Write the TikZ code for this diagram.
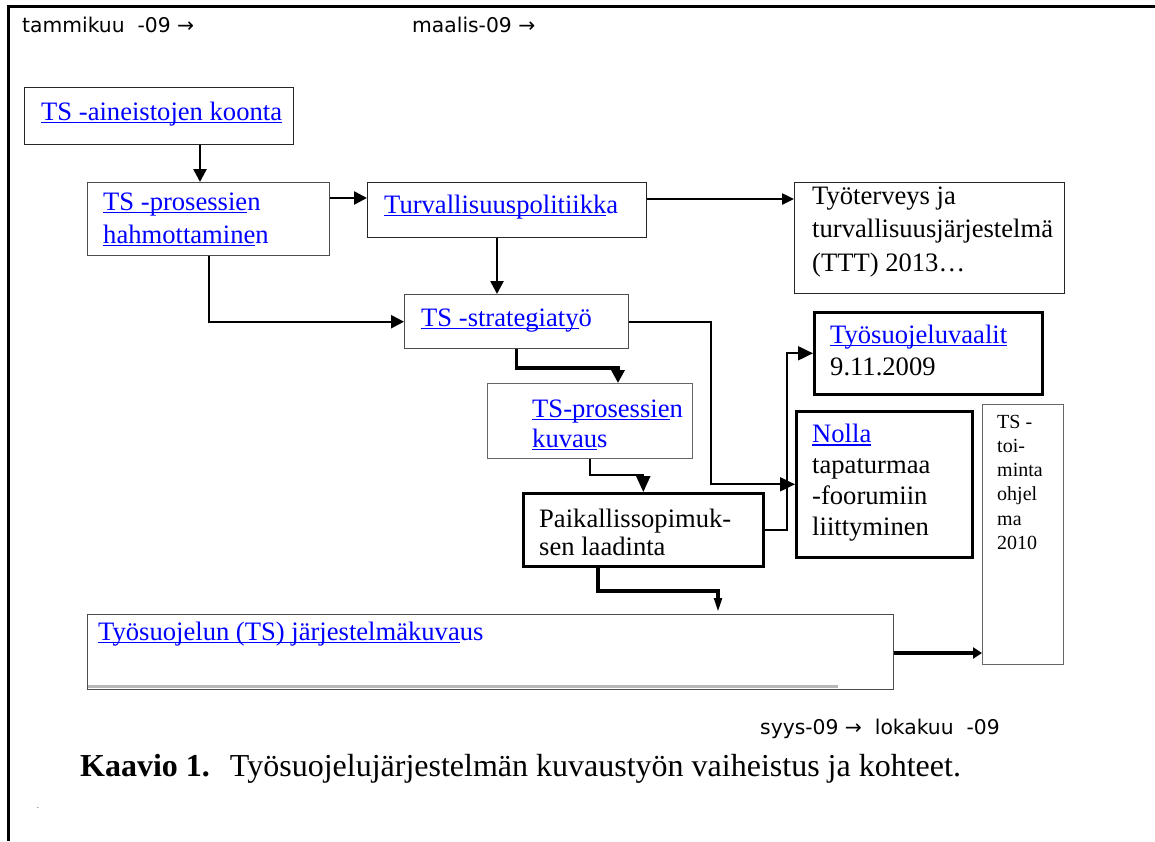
\documentclass[tikz,border=0pt]{standalone}
\usepackage{fontspec}
\setmainfont{Liberation Serif}
\newfontfamily\labelsans{DejaVu Sans}
\usetikzlibrary{arrows.meta}
\definecolor{linkblue}{RGB}{0,0,255}
% blue hyperlink text, underlined close to the baseline
\newcommand\lnkul[1]{\setbox0=\hbox{#1}\rlap{\rule[-2.8pt]{\wd0}{1.3pt}}\box0}
\newcommand\lnk[1]{\textcolor{linkblue}{\lnkul{#1}}}
\newcommand\blu[1]{\textcolor{linkblue}{#1}}
\begin{document}
\begin{tikzpicture}[x=1pt,y=-1pt,
  box/.style={draw=black!70, line width=1.4pt, inner sep=0pt, anchor=north west},
  boxdark/.style={box, draw=black!85},
  boxheavy/.style={box, draw=black, line width=2.6pt},
  boxlight/.style={box, draw=black!60, line width=1.2pt},
  % multi-line texts are placed by the baseline of their last line
  txt/.style={anchor=base west, inner sep=0pt, align=left, font=\fontsize{26.6}{33.5}\selectfont},
  timelbl/.style={anchor=base west, inner sep=0pt, font=\labelsans\fontsize{20.3}{22}\selectfont},
  conn/.style={line width=2.6pt, -{Triangle[length=13pt,width=13pt]}},
  connthin/.style={line width=2pt, -{Triangle[length=15pt,width=14pt]}},
]
\useasboundingbox (0,0) rectangle (1155,841);
% page frame
\draw[line width=3pt] (8,841) -- (8,6) -- (1155,6);

% time labels
\node[timelbl] (t1) at (22,32) {tammikuu\ \ -09 →};
\node[timelbl] (t2) at (412,32) {maalis-09 →};
\node[timelbl] (t3) at (760,734) {syys-09 → \ lokakuu\ \ -09};

% boxes
\node[boxdark, minimum width=269pt, minimum height=57pt] (a) at (24,87) {};
\node[box, minimum width=242pt, minimum height=73pt] (b) at (87,182) {};
\node[boxdark, minimum width=279pt, minimum height=55pt] (c) at (367,182) {};
\node[boxdark, minimum width=270pt, minimum height=111pt] (d) at (794,182) {};
\node[box, minimum width=224pt, minimum height=54pt] (e) at (404,294) {};
\node[boxheavy, minimum width=228pt, minimum height=82pt] (f) at (813,311) {};
\node[boxheavy, minimum width=176pt, minimum height=146pt] (g) at (795,410) {};
\node[boxlight, minimum width=81pt, minimum height=260pt] (h) at (982,404) {};
\node[boxlight, minimum width=205pt, minimum height=75pt] (i) at (487,383) {};
\node[boxheavy, minimum width=240pt, minimum height=73pt] (j) at (522,492) {};
\node[box, minimum width=806pt, minimum height=75pt] (k) at (87,614) {};
\fill[black!28] (88,684.5) rectangle (838,688.3);

% box texts
\node[txt] (a-t) at (41,120) {\lnk{TS -aineistojen koonta}};
\node[txt] (b-t) at (103,243.5) {\lnk{TS -prosessie}\blu{n}\\\lnk{hahmottamine}\blu{n}};
\node[txt] (c-t) at (384,213) {\lnk{Turvallisuuspolitiikk}\blu{a}};
\node[txt] (d-t) at (812,271) {Työterveys ja\\turvallisuusjärjestelmä\\(TTT) 2013…};
\node[txt] (e-t) at (421,326) {\lnk{TS -strategiaty}\blu{ö}};
\node[txt, font=\fontsize{26.6}{30}\selectfont] (i-t) at (532,447) {\lnk{TS-prosessie}\blu{n}\\\lnk{kuvau}\blu{s}};
\node[txt, font=\fontsize{26.6}{28.3}\selectfont] (j-t) at (539,555.3) {Paikallissopimuk-\\sen laadinta};
\node[txt, font=\fontsize{26.6}{32}\selectfont] (f-t) at (830,375) {\lnk{Työsuojeluvaalit}\\9.11.2009};
\node[txt, font=\fontsize{26.6}{30.7}\selectfont] (g-t) at (812,535) {\lnk{Nolla}\\tapaturmaa\\-foorumiin\\liittyminen};
\node[txt, font=\fontsize{20}{24.3}\selectfont] (h-t) at (997,549.5) {TS -\\toi-\\minta\\ohjel\\ma\\2010};
\node[txt] (k-t) at (98,640) {\lnk{Työsuojelun (TS) järjestelmäkuva}\blu{us}};

% bend points of the connectors
\coordinate (xab) at (200,0);
\coordinate (ybc) at (0,198);
\coordinate (ycd) at (0,199);
\coordinate (xce) at (497,0);
\coordinate (xeg) at (711,0);
\coordinate (xjf) at (787,0);
\coordinate (pei) at (618,368);
\coordinate (pij) at (589,475);
\coordinate (xjk) at (598,0);
\coordinate (pjk) at (718,591);
\coordinate (ykh) at (0,653);

% connectors
\draw[conn] (a.south -| xab) -- (b.north -| xab);
\draw[conn] (b.east |- ybc) -- (c.west |- ybc);
\draw[line width=2.4pt, -{Triangle[length=12pt,width=11pt]}] (c.east |- ycd) -- (d.west |- ycd);
\draw[conn] (c.south -| xce) -- (e.north -| xce);
\draw[conn, line width=2.4pt] (b.south) |- (e.west);
\draw[connthin] (e.east) -| (xeg |- g.west) -- (g.west);
\draw[connthin] (j.east) -| (xjf |- f.west) -- (f.west);
\draw[line width=3.5pt, -{Triangle[length=13pt,width=13pt]}] (e.south) |- (pei) -- (pei |- i.north);
\draw[line width=2pt, -{Triangle[length=16pt,width=14pt]}] (i.south) |- (pij) -| (j.north);
\draw[line width=4pt, -{Triangle[length=16pt,width=7pt]}] (j.south -| xjk) |- (pjk) -- (pjk |- k.north);
\draw[line width=4.5pt, -{Triangle[length=9pt,width=11pt]}] (k.east |- ykh) -- (h.west |- ykh);

% caption
\node[anchor=base west, inner sep=0pt, font=\fontsize{32}{37}\selectfont] (cap) at (80,776)
  {\textbf{Kaavio 1.}\hspace{20pt}Työsuojelujärjestelmän kuvaustyön vaiheistus ja kohteet.};
\node[inner sep=0pt, font=\fontsize{9}{9}\selectfont, text=black!75] (dot) at (38,808) {.};
\end{tikzpicture}
\end{document}
